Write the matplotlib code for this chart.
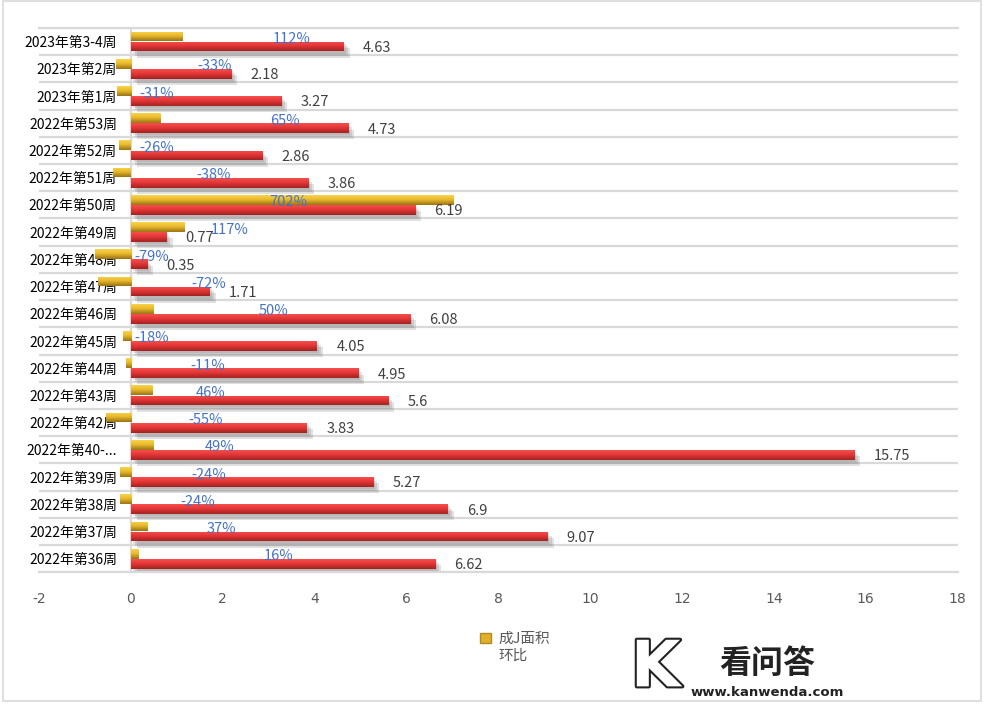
import numpy as np
import matplotlib
matplotlib.use("Agg")
import matplotlib.pyplot as plt
import matplotlib.patheffects as pe
from matplotlib.patches import Patch, Rectangle

plt.rcParams['font.family'] = ['Noto Sans CJK SC', 'DejaVu Sans']

# ---------------------------------------------------------------
# Data (top row first)
# ---------------------------------------------------------------
weeks = ['2023年第3-4周', '2023年第2周', '2023年第1周', '2022年第53周', '2022年第52周',
         '2022年第51周', '2022年第50周', '2022年第49周', '2022年第48周', '2022年第47周',
         '2022年第46周', '2022年第45周', '2022年第44周', '2022年第43周', '2022年第42周',
         '2022年第40-...', '2022年第39周', '2022年第38周', '2022年第37周', '2022年第36周']
area = [4.63, 2.18, 3.27, 4.73, 2.86, 3.86, 6.19, 0.77, 0.35, 1.71,
        6.08, 4.05, 4.95, 5.6, 3.83, 15.75, 5.27, 6.9, 9.07, 6.62]
pct = [112, -33, -31, 65, -26, -38, 702, 117, -79, -72,
       50, -18, -11, 46, -55, 49, -24, -24, 37, 16]
# where Excel left the percentage labels (x in axis units)
pct_label_x = [3.51, 1.83, 0.57, 3.36, 0.57, 1.81, 3.42, 2.16, 0.46, 1.70,
               3.10, 0.46, 1.68, 1.74, 1.63, 1.94, 1.70, 1.46, 1.98, 3.22]
xticks = list(range(-2, 19, 2))

# ---------------------------------------------------------------
# Figure
# ---------------------------------------------------------------
fig = plt.figure(figsize=(9.86, 7.05), dpi=100)
ax = fig.add_axes([0.0396, 0.1882, 0.9315, 0.7722])

y = np.arange(len(weeks))
h = 0.36
ratio = [p / 100 for p in pct]

gold_bars = ax.barh(y - 0.185, ratio, height=h, color='#e0b02a', zorder=1.5)
shadow = [pe.SimplePatchShadow(offset=(o, -o), shadow_rgbFace='#6f6f6f', alpha=0.2)
          for o in (1.5, 3, 4.5)] + [pe.Normal()]
red_bars = ax.barh(y + 0.185, area, height=h, color='#e83a3a', zorder=1.5,
                   path_effects=shadow)


def gradient_fill(bars, top, mid, bottom):
    cols = np.array([matplotlib.colors.to_rgb(c) for c in (top, mid, bottom)])
    t = np.linspace(0, 1, 32)
    grad = np.empty((32, 1, 3))
    for k in range(3):
        grad[:, 0, k] = np.interp(t, [0, 0.45, 1], cols[:, k])
    for b in bars:
        x0, x1 = sorted([b.get_x(), b.get_x() + b.get_width()])
        yt, yb = b.get_y(), b.get_y() + b.get_height()
        im = ax.imshow(grad, extent=(x0, x1, yb, yt), origin='upper',
                       aspect='auto', zorder=2, interpolation='bilinear')
        im.set_clip_path(b)


gradient_fill(gold_bars, '#f8d34a', '#e9b92c', '#9a7415')
gradient_fill(red_bars, '#f64e4e', '#e53636', '#a32222')

# value labels
for i, v in enumerate(area):
    ax.annotate(f'{v:g}', (v, i + 0.185), xytext=(14, -1), textcoords='offset points',
                ha='left', va='center', fontsize=10.5, color='#404040', zorder=5)
for i, p in enumerate(pct):
    ax.text(pct_label_x[i], i - 0.09, f'{p}%', ha='center', va='center',
            fontsize=10.5, color='#4472c4', zorder=5)

# axes styling
ax.set_xlim(-2, 18)
ax.set_ylim(len(weeks) - 0.5, -0.5)
ax.set_xticks(xticks)
ax.set_xticklabels([str(t) for t in xticks], fontsize=10, color='#595959',
                   family=['Liberation Sans Narrow', 'DejaVu Sans'])
ax.set_yticks(y)
ax.set_yticklabels(weeks, fontsize=10.7, color='#595959', fontweight='light')
ax.set_yticks(np.arange(-0.5, len(weeks), 1), minor=True)
ax.tick_params(axis='both', which='both', length=0)
ax.tick_params(axis='x', pad=14)
ax.tick_params(axis='y', pad=10)
ax.grid(True, which='minor', axis='y', color='#d9d9d9', linewidth=1.6, zorder=0)
ax.set_axisbelow(True)

ax.spines['left'].set_position(('data', 0))
ax.spines['left'].set_color('#d9d9d9')
ax.spines['left'].set_linewidth(1.6)
ax.spines['left'].set_zorder(1)
for s in ('top', 'bottom'):
    ax.spines[s].set_color('#d9d9d9')
    ax.spines[s].set_linewidth(1.6)
ax.spines['right'].set_visible(False)

# legend (second entry has no visible key in the original)
fig.legend(handles=[Patch(facecolor='#e0b02a', edgecolor='#b08a1e'),
                    Patch(facecolor='none', edgecolor='none')],
           labels=['成J面积', '环比'], loc='upper left', bbox_to_anchor=(0.474, 0.122),
           frameon=False, fontsize=10.5, labelcolor='#595959',
           handlelength=0.75, handleheight=0.75, handletextpad=0.5, labelspacing=0.15)

# chart border
fig.patches.append(Rectangle((0.003, 0.006), 0.992, 0.992, transform=fig.transFigure,
                             fill=False, edgecolor='#d9d9d9', linewidth=1.2))

# watermark
fig.text(0.665, 0.052, 'K', fontsize=46, fontweight='bold', color='white',
         ha='center', va='center', family='DejaVu Sans',
         path_effects=[pe.withStroke(linewidth=3, foreground='#222222')])
fig.text(0.778, 0.058, '看问答', fontsize=23, fontweight='bold', color='#222222',
         ha='center', va='center')
fig.text(0.778, 0.018, 'www.kanwenda.com', fontsize=9.5, fontweight='bold',
         color='#222222', ha='center', va='center', family='DejaVu Sans')

fig.savefig('out.png', dpi=100, facecolor='white')
